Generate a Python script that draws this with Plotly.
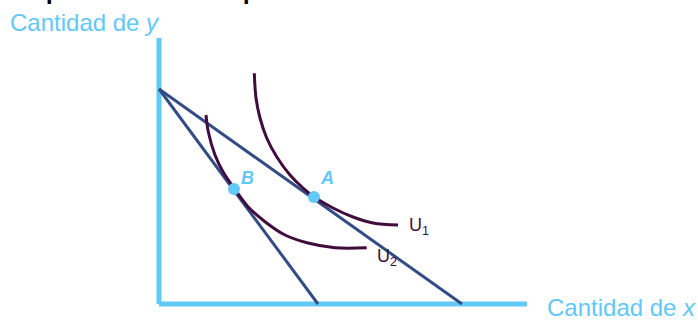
import plotly.graph_objects as go

# Colours
AXIS_BLUE = '#62C8F8'
LINE_BLUE = '#344C86'
CURVE_PURPLE = '#3F0C3D'

# Axes (quantity of x, quantity of y)
x_axis_x = [0, 36.8]
x_axis_y = [0, 0]
y_axis_x = [0, 0]
y_axis_y = [0, 26.6]

# Budget lines: same y intercept, x intercept moves in when price of x rises
budget_y0 = 21.5
budget1_x0 = 30.3   # original budget
budget2_x0 = 15.9   # after price rise

# Indifference curve U1
u1_x = [9.53, 9.7, 10.1, 10.77, 11.77, 13.1, 14.4, 15.6, 17.4, 19.4, 21.4, 23.9]
u1_y = [23.07, 20.6, 18.6, 16.6, 14.73, 12.9, 11.6, 10.65, 9.6, 8.7, 8.1, 7.9]

# Indifference curve U2
u2_x = [4.7, 4.93, 5.6, 6.4, 7.6, 8.9, 10.6, 12.6, 14.9, 17.6, 20.77]
u2_y = [18.9, 17.23, 14.9, 13.23, 11.45, 9.73, 8.23, 6.9, 6.1, 5.63, 5.63]

# Optimal points
point_names = ['A', 'B']
point_x = [15.5, 7.5]
point_y = [10.7, 11.5]

fig = go.Figure()

# Ejes
fig.add_trace(go.Scatter(x=y_axis_x, y=y_axis_y, mode='lines',
                         line=dict(color=AXIS_BLUE, width=5)))
fig.add_trace(go.Scatter(x=x_axis_x, y=x_axis_y, mode='lines',
                         line=dict(color=AXIS_BLUE, width=5)))

# Rectas de presupuesto
fig.add_trace(go.Scatter(x=[0, budget1_x0], y=[budget_y0, 0], mode='lines',
                         line=dict(color=LINE_BLUE, width=3)))
fig.add_trace(go.Scatter(x=[0, budget2_x0], y=[budget_y0, 0], mode='lines',
                         line=dict(color=LINE_BLUE, width=3)))

# Curvas de indiferencia
fig.add_trace(go.Scatter(x=u1_x, y=u1_y, mode='lines',
                         line=dict(color=CURVE_PURPLE, width=3, shape='spline')))
fig.add_trace(go.Scatter(x=u2_x, y=u2_y, mode='lines',
                         line=dict(color=CURVE_PURPLE, width=3, shape='spline')))

# Puntos A y B
fig.add_trace(go.Scatter(x=point_x, y=point_y, mode='markers',
                         marker=dict(color=AXIS_BLUE, size=12)))

annotations = [
    dict(x=-15.1, y=28.2, text='Cantidad de <i>y</i>', xanchor='left', yanchor='middle',
         font=dict(size=24, color=AXIS_BLUE)),
    dict(x=38.6, y=-0.35, text='Cantidad de <i>x</i>', xanchor='left', yanchor='middle',
         font=dict(size=24, color=AXIS_BLUE)),
    dict(x=u1_x[-1] + 0.9, y=u1_y[-1] - 0.1, text='U<sub>1</sub>', xanchor='left', yanchor='middle',
         font=dict(size=18, color=CURVE_PURPLE)),
    dict(x=u2_x[-1] + 0.8, y=u2_y[-1] - 1.0, text='U<sub>2</sub>', xanchor='left', yanchor='middle',
         font=dict(size=18, color=CURVE_PURPLE)),
]
# labels sit side by side at the same height
for name, px in zip(point_names, point_x):
    annotations.append(dict(x=px + 1.3, y=12.6, text='<b><i>%s</i></b>' % name,
                            xanchor='center', yanchor='middle',
                            font=dict(size=18, color=AXIS_BLUE)))
# title cut off at the top edge, only the descenders show
for tx in [42.5, 240.5]:
    annotations.append(dict(x=tx / 698, y=0.981, xref='paper', yref='paper', text='p',
                            xanchor='left', yanchor='bottom',
                            font=dict(size=38, color='black')))
for ann in annotations:
    ann['showarrow'] = False
    ann['font']['family'] = 'Liberation Sans, Arial, sans-serif'

fig.update_layout(
    width=698, height=320,
    margin=dict(l=0, r=0, t=0, b=0),
    paper_bgcolor='white', plot_bgcolor='white',
    showlegend=False,
    xaxis=dict(range=[-15.9, 53.9], visible=False, fixedrange=True),
    yaxis=dict(range=[-1.6, 30.4], visible=False, fixedrange=True),
    annotations=annotations,
)

fig.write_html("out.html", config={'displayModeBar': False},
               post_script="document.body.style.margin='0';")
